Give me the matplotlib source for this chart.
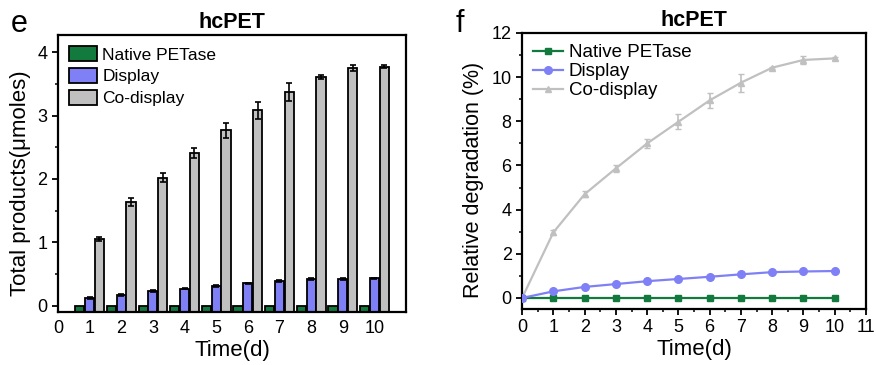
import matplotlib
matplotlib.use('Agg')
import matplotlib.pyplot as plt
import numpy as np
from matplotlib.ticker import MultipleLocator

plt.rcParams.update({
    'font.family': ['Liberation Sans', 'DejaVu Sans'],
    'font.size': 12,
    'axes.linewidth': 1.6,
    'xtick.major.width': 1.3,
    'ytick.major.width': 1.3,
    'xtick.minor.width': 1.1,
    'ytick.minor.width': 1.1,
})

days = np.arange(1, 11)
native_tp = [0.0] * 10
display_tp = [0.12, 0.17, 0.23, 0.27, 0.31, 0.35, 0.39, 0.42, 0.42, 0.43]
display_tp_err = [0.01, 0.01, 0.01, 0.01, 0.01, 0.01, 0.01, 0.01, 0.01, 0.01]
codisplay_tp = [1.05, 1.64, 2.02, 2.41, 2.77, 3.08, 3.37, 3.61, 3.75, 3.77]
codisplay_tp_err = [0.03, 0.06, 0.07, 0.08, 0.12, 0.13, 0.14, 0.03, 0.05, 0.02]

t = np.arange(0, 11)
native_deg = [0.0] * 11
display_deg = [0.0, 0.30, 0.50, 0.63, 0.76, 0.86, 0.96, 1.07, 1.17, 1.20, 1.22]
codisplay_deg = [0.0, 2.97, 4.70, 5.87, 7.00, 7.98, 8.95, 9.75, 10.43, 10.78, 10.85]
codisplay_deg_err = [0.0, 0.10, 0.15, 0.15, 0.22, 0.35, 0.33, 0.40, 0.05, 0.18, 0.08]

GREEN = '#127a3c'
BLUE = '#7f80f6'
GRAY = '#c0c0c0'

fig = plt.figure(figsize=(8.76, 3.65), dpi=100)
ax1 = fig.add_axes([0.0662, 0.1452, 0.3973, 0.7588])
ax2 = fig.add_axes([0.596, 0.1534, 0.3926, 0.7562])

# ---- panel e: bars (Origin-style, drawn up from the axis floor)
YMIN1 = -0.1
w = 0.29
off = 0.31
for vals, err, dx, col, lab in [
        (native_tp, None, -off, GREEN, 'Native PETase'),
        (display_tp, display_tp_err, 0, BLUE, 'Display'),
        (codisplay_tp, codisplay_tp_err, off, GRAY, 'Co-display')]:
    heights = np.array(vals) - YMIN1
    ax1.bar(days + dx, heights, width=w, bottom=YMIN1, color=col,
            edgecolor='black', linewidth=1.3, label=lab, zorder=2)
    if err is not None:
        ax1.errorbar(days + dx, vals, yerr=err, fmt='none', ecolor='black',
                     elinewidth=1.2, capsize=2.5, capthick=1.2, zorder=3)

ax1.set_xlim(0, 11)
ax1.set_ylim(YMIN1, 4.27)
ax1.set_xticks(range(0, 11))
ax1.yaxis.set_major_locator(MultipleLocator(1))
ax1.yaxis.set_minor_locator(MultipleLocator(0.5))
ax1.tick_params(axis='x', length=0, labelsize=13, pad=6)
ax1.tick_params(axis='y', which='major', length=4, labelsize=13)
ax1.tick_params(axis='y', which='minor', length=2.5)
ax1.set_xlabel('Time(d)', fontsize=16, labelpad=2)
ax1.set_ylabel('Total products(\u03bcmoles)', fontsize=16)
ax1.yaxis.set_label_coords(-0.077, 0.465)
ax1.set_title('hcPET', fontsize=15.5, fontweight='bold', pad=5)
ax1.legend(loc='upper left', fontsize=12.5, frameon=False, handlelength=1.6,
           handleheight=0.95, handletextpad=0.3, labelspacing=0.3,
           borderaxespad=0.25)

# ---- panel f: lines
ax2.plot(t, native_deg, color=GREEN, marker='s', markersize=4.5,
         linewidth=1.6, label='Native PETase', zorder=3)
ax2.plot(t, display_deg, color=BLUE, marker='o', markersize=5.5,
         linewidth=1.6, label='Display', zorder=3)
ax2.errorbar(t, codisplay_deg, yerr=codisplay_deg_err, fmt='none',
             ecolor=GRAY, elinewidth=1.2, capsize=2.5, zorder=2)
ax2.plot(t, codisplay_deg, color=GRAY, marker='^', markersize=5,
         linewidth=1.6, label='Co-display', zorder=2)

ax2.set_xlim(0, 11)
ax2.set_ylim(-0.5, 12)
ax2.xaxis.set_major_locator(MultipleLocator(1))
ax2.xaxis.set_minor_locator(MultipleLocator(0.5))
ax2.yaxis.set_major_locator(MultipleLocator(2))
ax2.yaxis.set_minor_locator(MultipleLocator(1))
ax2.tick_params(which='major', length=4, labelsize=13)
ax2.tick_params(which='minor', length=2.5)
ax2.set_xlabel('Time(d)', fontsize=16, labelpad=2)
ax2.set_ylabel('Relative degradation (%)', fontsize=15.5)
ax2.yaxis.set_label_coords(-0.112, 0.467)
ax2.set_title('hcPET', fontsize=15.5, fontweight='bold', pad=5)
ax2.legend(loc='upper left', fontsize=13.5, frameon=False, handlelength=1.6,
           handletextpad=0.3, labelspacing=0.1, borderaxespad=0.2)

fig.text(0.012, 0.975, 'e', fontsize=22, va='top', ha='left')
fig.text(0.52, 0.975, 'f', fontsize=22, va='top', ha='left')

fig.savefig('out.png', dpi=100)
